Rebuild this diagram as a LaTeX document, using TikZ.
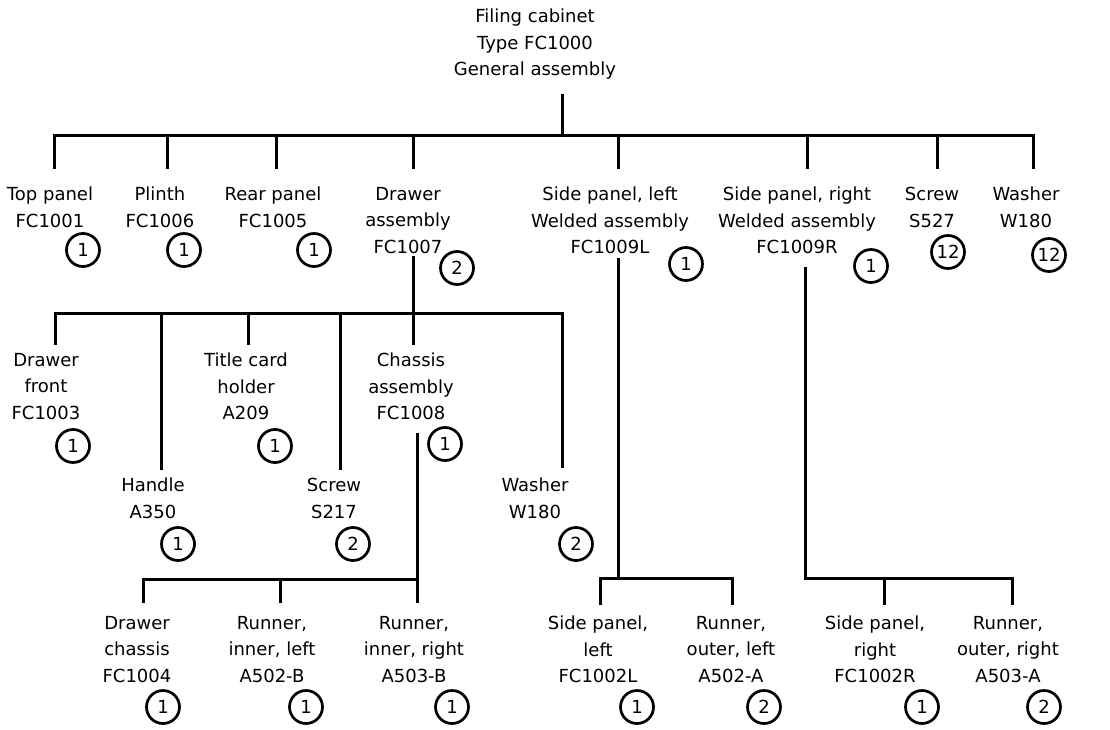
\documentclass[tikz,border=0pt]{standalone}
\usepackage{fontspec}
\setmainfont{DejaVu Sans}
\usetikzlibrary{positioning}

\tikzset{
  part/.style={anchor=north, align=center, inner sep=0pt, font=\fontsize{18}{26.5}\selectfont},
  qty/.style={circle, draw, line width=2.7pt, minimum size=33pt, inner sep=0pt, font=\fontsize{18}{18}\selectfont},
  link/.style={line width=3pt},
}

\begin{document}
\begin{tikzpicture}[x=1pt,y=-1pt]
        \useasboundingbox (0,0) rectangle (1110,730);
        % general assembly
        \node[part] (root) at (535,9) {Filing cabinet\\Type FC1000\\General assembly};
        \coordinate (r0) at (562,94);
        \coordinate (b0) at (562,136);
        \draw[link] (r0) -- (b0);

        \coordinate (topc) at (54,169);
        \coordinate (plic) at (167,169);
        \coordinate (rearc) at (276,169);
        \coordinate (drwc) at (413,169);
        \coordinate (sidlc) at (618,169);
        \coordinate (sidrc) at (807,169);
        \coordinate (scrc) at (937,169);
        \coordinate (wasc) at (1033,169);
        \draw[link] (topc) -- (topc |- b0) -- (wasc |- b0) -- (wasc);
        \foreach \c in {plic,rearc,drwc,sidlc,sidrc,scrc}
            \draw[link] (\c) -- (\c |- b0);

        \node[part] (top) at (50,187) {Top panel\\FC1001};
        \node[part] (pli) at (160,187) {Plinth\\FC1006};
        \node[part] (rear) at (273,187) {Rear panel\\FC1005};
        \node[part] (drw) at (408,187) {Drawer\\assembly\\FC1007};
        \node[part] (sidl) at (610,187) {Side panel, left\\Welded assembly\\FC1009L};
        \node[part] (sidr) at (797,187) {Side panel, right\\Welded assembly\\FC1009R};
        \node[part] (scr) at (932,187) {Screw\\S527};
        \node[part] (was) at (1026,187) {Washer\\W180};

        \node[qty] (topq) at (83,250) {1};
        \node[qty] (pliq) at (184,250) {1};
        \node[qty] (rearq) at (314,250) {1};
        \node[qty] (drwq) at (457,268) {2};
        \node[qty] (sidlq) at (686,264) {1};
        \node[qty] (sidrq) at (871,266) {1};
        \node[qty] (scrq) at (948,252) {12};
        \node[qty] (wasq) at (1049,255) {12};

        % drawer assembly
        \coordinate (d0) at (413,256);
        \coordinate (b1) at (413,313);
        \coordinate (frontc) at (55,345);
        \coordinate (handc) at (161,470);
        \coordinate (titlec) at (248,345);
        \coordinate (scr2c) at (340,470);
        \coordinate (chasc) at (413,345);
        \coordinate (was2c) at (562,468);
        \draw[link] (d0) -- (chasc);
        \draw[link] (frontc) -- (frontc |- b1) -- (was2c |- b1) -- (was2c);
        \foreach \c in {handc,titlec,scr2c}
            \draw[link] (\c) -- (\c |- b1);

        \node[part] (front) at (46,353) {Drawer\\front\\FC1003};
        \node[part] (title) at (246,353) {Title card\\holder\\A209};
        \node[part] (chas) at (411,353) {Chassis\\assembly\\FC1008};
        \node[part] (hand) at (153,478) {Handle\\A350};
        \node[part] (scr2) at (334,478) {Screw\\S217};
        \node[part] (was2) at (535,478) {Washer\\W180};

        \node[qty] (frontq) at (73,446) {1};
        \node[qty] (titleq) at (275,446) {1};
        \node[qty] (chasq) at (445,444) {1};
        \node[qty] (handq) at (178,544) {1};
        \node[qty] (scr2q) at (353,544) {2};
        \node[qty] (was2q) at (576,544) {2};

        % chassis assembly
        \coordinate (c0) at (417,433);
        \coordinate (b2) at (417,579);
        \coordinate (dchc) at (143,603);
        \coordinate (rilc) at (280,603);
        \coordinate (rirc) at (417,603);
        \draw[link] (c0) -- (rirc);
        \draw[link] (dchc) -- (dchc |- b2) -- (b2);
        \draw[link] (rilc) -- (rilc |- b2);

        \node[part] (dch) at (137,616) {Drawer\\chassis\\FC1004};
        \node[part] (ril) at (272,616) {Runner,\\inner, left\\A502-B};
        \node[part] (rir) at (414,616) {Runner,\\inner, right\\A503-B};

        \node[qty] (dchq) at (163,707) {1};
        \node[qty] (rilq) at (306,707) {1};
        \node[qty] (rirq) at (452,707) {1};

        % side panels
        \coordinate (s0) at (618,258);
        \coordinate (s1) at (618,578);
        \coordinate (splc) at (600,605);
        \coordinate (rolc) at (732,605);
        \draw[link] (s0) -- (s1);
        \draw[link] (splc) -- (splc |- s1) -- (rolc |- s1) -- (rolc);

        \coordinate (t0) at (805,267);
        \coordinate (t1) at (805,578);
        \coordinate (sprc) at (884,605);
        \coordinate (rorc) at (1012,605);
        \draw[link] (t0) -- (t1) -- (rorc |- t1) -- (rorc);
        \draw[link] (sprc) -- (sprc |- t1);

        \node[part] (spl) at (598,616) {Side panel,\\left\\FC1002L};
        \node[part] (rol) at (731,616) {Runner,\\outer, left\\A502-A};
        \node[part] (spr) at (875,616) {Side panel,\\right\\FC1002R};
        \node[part] (ror) at (1008,616) {Runner,\\outer, right\\A503-A};

        \node[qty] (splq) at (637,707) {1};
        \node[qty] (rolq) at (764,707) {2};
        \node[qty] (sprq) at (922,707) {1};
        \node[qty] (rorq) at (1044,707) {2};
\end{tikzpicture}
\end{document}
